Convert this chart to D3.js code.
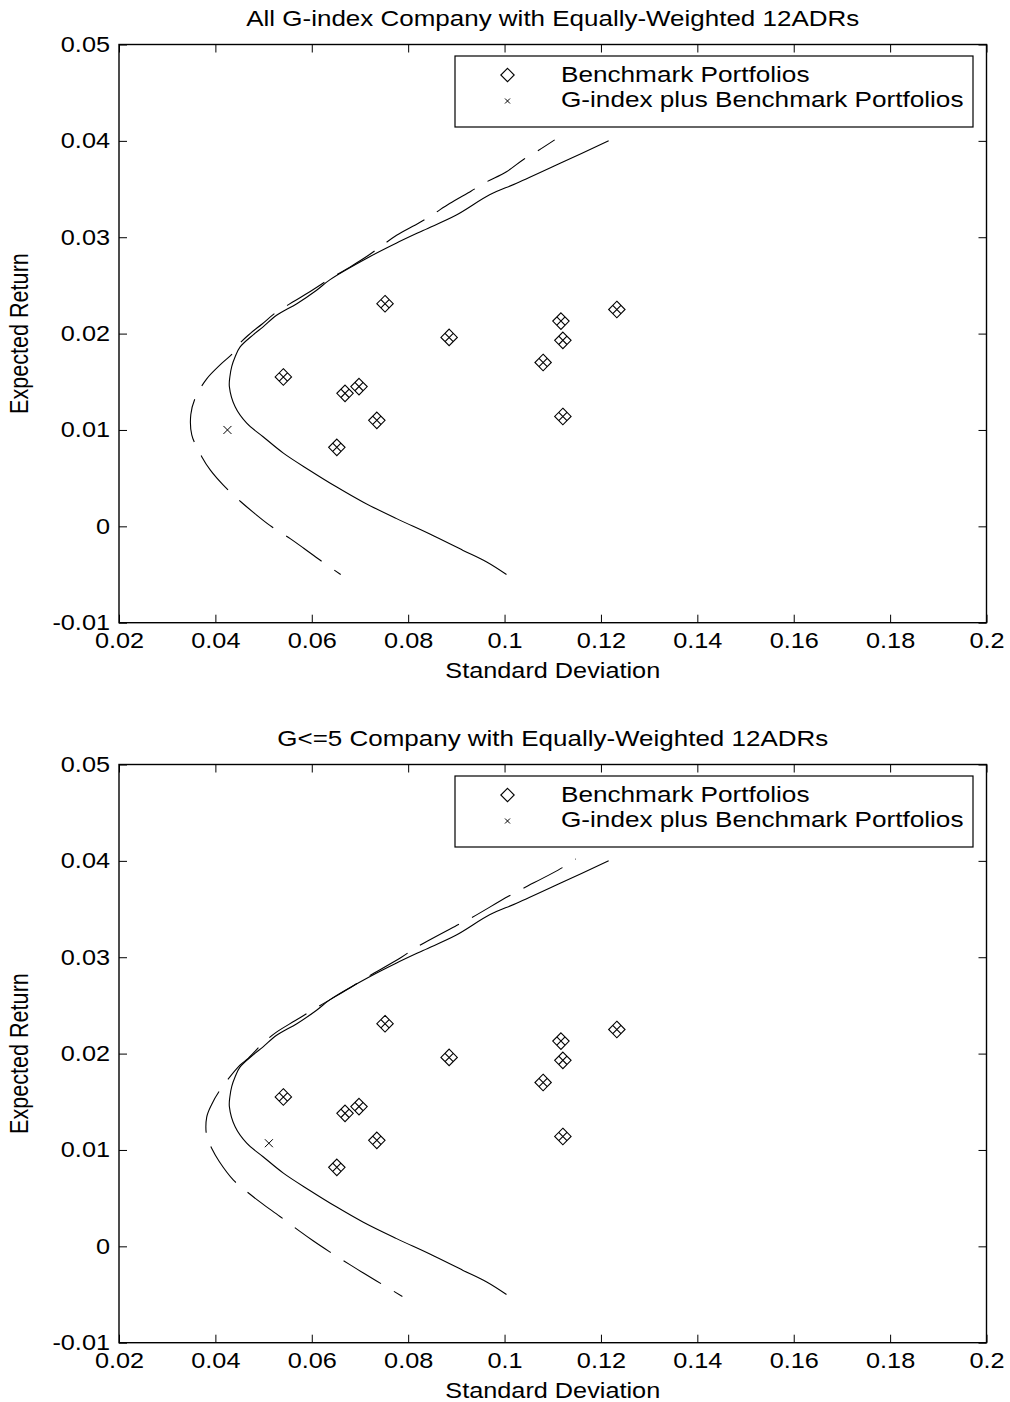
<!DOCTYPE html>
<html>
<head>
<meta charset="utf-8">
<script src="https://cdn.jsdelivr.net/npm/d3@7"></script>
<style>
  html, body { margin: 0; padding: 0; background: #fff; }
  svg { display: block; }
</style>
</head>
<body>
<svg id="chart" width="1010" height="1402"></svg>
<script>
// ---------------- data ----------------
const titles = [
  "All G-index Company with Equally-Weighted 12ADRs",
  "G<=5 Company with Equally-Weighted 12ADRs"
];
const xLabel = "Standard Deviation";
const yLabel = "Expected Return";
const legendLabels = ["Benchmark Portfolios", "G-index plus Benchmark Portfolios"];

const xTicks = [0.02, 0.04, 0.06, 0.08, 0.1, 0.12, 0.14, 0.16, 0.18, 0.2];
const xTickLabels = ["0.02", "0.04", "0.06", "0.08", "0.1", "0.12", "0.14", "0.16", "0.18", "0.2"];
const yTicks = [-0.01, 0, 0.01, 0.02, 0.03, 0.04, 0.05];
const yTickLabels = ["-0.01", "0", "0.01", "0.02", "0.03", "0.04", "0.05"];

// 12 benchmark portfolios (same in both panels)
const benchSD  = [0.0752, 0.0885, 0.1117, 0.1121, 0.1233, 0.1080, 0.1121, 0.0541, 0.0669, 0.0698, 0.0735, 0.0652];
const benchRet = [0.0231, 0.0196, 0.0213, 0.0193, 0.0225, 0.0170, 0.0114, 0.0155, 0.0138, 0.0145, 0.0110, 0.0082];

// benchmark frontier (solid), same in both panels
const frontSD  = [0.1216, 0.1121, 0.1025, 0.0969, 0.0900, 0.0831, 0.0776, 0.0721, 0.0638, 0.0610,
                  0.0569, 0.0527, 0.0499, 0.0479, 0.0451, 0.0441, 0.0434, 0.0430, 0.0429, 0.0441,
                  0.0465, 0.0499, 0.0541, 0.0596, 0.0651, 0.0707, 0.0776, 0.0845, 0.0914, 0.0963, 0.1004];
const frontRet = [0.0400, 0.0378, 0.0356, 0.0344, 0.0323, 0.0307, 0.0294, 0.0280, 0.0256, 0.0245,
                  0.0231, 0.0219, 0.0207, 0.0199, 0.0186, 0.0176, 0.0166, 0.0155, 0.0145, 0.0124,
                  0.0107, 0.0093, 0.0076, 0.0058, 0.0041, 0.0025, 0.0008, -0.0008, -0.0025, -0.0037, -0.0050];

// G-index plus benchmark frontier (dashed), panel 1
const gAllSD  = [0.1104, 0.1070, 0.1040, 0.1004, 0.0961, 0.0931, 0.0886, 0.0852, 0.0823, 0.0776,
                 0.0745, 0.0717, 0.0679, 0.0638, 0.0604, 0.0565, 0.0526, 0.0497, 0.0472, 0.0451,
                 0.0437, 0.0413, 0.0382, 0.0358, 0.0349, 0.0351, 0.0372, 0.0390, 0.0416, 0.0454,
                 0.0480, 0.0513, 0.0556, 0.0584, 0.0617, 0.0660];
const gAllRet = [0.0401, 0.0390, 0.0381, 0.0368, 0.0357, 0.0348, 0.0335, 0.0324, 0.0315, 0.0302,
                 0.0291, 0.0281, 0.0269, 0.0257, 0.0246, 0.0234, 0.0222, 0.0210, 0.0200, 0.0190,
                 0.0180, 0.0169, 0.0153, 0.0133, 0.0116, 0.0095, 0.0072, 0.0058, 0.0043, 0.0025,
                 0.0014, 0.0001, -0.0013, -0.0023, -0.0035, -0.0050];

// G-index plus benchmark frontier (dashed), panel 2 (G<=5)
const g5SD  = [0.1148, 0.1120, 0.1037, 0.1007, 0.0928, 0.0897, 0.0816, 0.0786, 0.0707, 0.0679,
               0.0638, 0.0604, 0.0565, 0.0526, 0.0497, 0.0468, 0.0451, 0.0408, 0.0392, 0.0382,
               0.0382, 0.0392, 0.0408, 0.0437, 0.0472, 0.0498, 0.0534, 0.0574, 0.0602, 0.0638,
               0.0679, 0.0708, 0.0748, 0.0788];
const g5Ret = [0.0402, 0.0393, 0.0371, 0.0363, 0.0340, 0.0332, 0.0310, 0.0300, 0.0277, 0.0268,
               0.0256, 0.0246, 0.0234, 0.0222, 0.0210, 0.0195, 0.0188, 0.0161, 0.0147, 0.0134,
               0.0114, 0.0102, 0.0088, 0.0069, 0.0054, 0.0044, 0.0031, 0.0016, 0.0006, -0.0006,
               -0.0019, -0.0028, -0.0040, -0.0052];

// G-index plus benchmark tangency points
const gPointSD  = [0.0425, 0.0511];
const gPointRet = [0.0100, 0.0107];

// ---------------- drawing ----------------
const FONT = "'Liberation Sans', Arial, Helvetica, sans-serif";
const FS = 21.6;        // axis font size
const FS_TITLE = 22.2;
const FS_LEGEND = 21.8;
const SX = 1.17;        // horizontal stretch of the original figure
const SX_LEGEND = 1.2;

const svg = d3.select("#chart");

const panels = [
  { y0: 0,   title: titles[0], dSD: gAllSD, dRet: gAllRet, dashOffset: 24 },
  { y0: 720, title: titles[1], dSD: g5SD,   dRet: g5Ret,   dashOffset: 43 }
];

function stretchedText(g, x, y, str, anchor, fs, sx) {
  return g.append("text")
    .attr("transform", `translate(${x},${y}) scale(${sx || SX},1)`)
    .attr("text-anchor", anchor)
    .attr("font-family", FONT)
    .attr("font-size", fs)
    .attr("fill", "#000")
    .text(str);
}

function diamondCross(g, cx, cy, hx, hy, withCross) {
  const p = d3.path();
  p.moveTo(cx, cy - hy); p.lineTo(cx + hx, cy); p.lineTo(cx, cy + hy); p.lineTo(cx - hx, cy); p.closePath();
  if (withCross) {
    // lines joining the midpoints of opposite edges
    p.moveTo(cx - hx / 2, cy - hy / 2); p.lineTo(cx + hx / 2, cy + hy / 2);
    p.moveTo(cx + hx / 2, cy - hy / 2); p.lineTo(cx - hx / 2, cy + hy / 2);
  }
  g.append("path").attr("d", p.toString())
    .attr("fill", "none").attr("stroke", "#000").attr("stroke-width", 1.1);
}

function xMark(g, cx, cy, h) {
  const p = d3.path();
  p.moveTo(cx - h, cy - h); p.lineTo(cx + h, cy + h);
  p.moveTo(cx + h, cy - h); p.lineTo(cx - h, cy + h);
  g.append("path").attr("d", p.toString())
    .attr("fill", "none").attr("stroke", "#000").attr("stroke-width", 1);
}

panels.forEach((pn, pi) => {
  const g = svg.append("g");
  const left = 119, right = 986.5, top = pn.y0 + 44.5, bottom = pn.y0 + 622.7;
  const x = d3.scaleLinear().domain([0.02, 0.2]).range([left, right]);
  const y = d3.scaleLinear().domain([-0.01, 0.05]).range([bottom, top]);

  // axes
  const axB = d3.axisBottom(x).tickValues(xTicks).tickFormat((d, i) => xTickLabels[i])
    .tickSizeInner(-8).tickSizeOuter(0).tickPadding(10);
  const axT = d3.axisTop(x).tickValues(xTicks).tickFormat("").tickSizeInner(-8).tickSizeOuter(0);
  const axL = d3.axisLeft(y).tickValues(yTicks).tickFormat((d, i) => yTickLabels[i])
    .tickSizeInner(-8).tickSizeOuter(0).tickPadding(7.7);
  const axR = d3.axisRight(y).tickValues(yTicks).tickFormat("").tickSizeInner(-8).tickSizeOuter(0);

  [[axB, `translate(0,${bottom})`], [axT, `translate(0,${top})`],
   [axL, `translate(${left},0)`], [axR, `translate(${right},0)`]].forEach(([ax, tr]) => {
    const ag = g.append("g").attr("transform", tr).call(ax);
    ag.select(".domain").remove();
    ag.attr("font-family", FONT).attr("font-size", FS);
    ag.selectAll(".tick line").attr("stroke", "#000").attr("stroke-width", 1);
    ag.selectAll(".tick text").attr("fill", "#000").attr("transform", `scale(${SX},1)`);
  });

  // frame
  g.append("rect").attr("x", left).attr("y", top)
    .attr("width", right - left).attr("height", bottom - top)
    .attr("fill", "none").attr("stroke", "#000").attr("stroke-width", 1.4);

  // title and axis labels
  stretchedText(g, (left + right) / 2, pn.y0 + 26, pn.title, "middle", FS_TITLE);
  stretchedText(g, (left + right) / 2, pn.y0 + 677.5, xLabel, "middle", FS);
  g.append("text")
    .attr("transform", `translate(28,${(top + bottom) / 2}) scale(${SX},1) rotate(-90)`)
    .attr("text-anchor", "middle").attr("font-family", FONT).attr("font-size", FS)
    .attr("fill", "#000").text(yLabel);

  // curves
  const line = d3.line().x(d => x(d[0])).y(d => y(d[1])).curve(d3.curveCatmullRom.alpha(0.5));
  g.append("path").datum(frontSD.map((v, i) => [v, frontRet[i]]))
    .attr("d", line).attr("fill", "none").attr("stroke", "#000").attr("stroke-width", 1.1);
  g.append("path").datum(pn.dSD.map((v, i) => [v, pn.dRet[i]]))
    .attr("d", line).attr("fill", "none").attr("stroke", "#000").attr("stroke-width", 1.1)
    .attr("stroke-dasharray", "44,15").attr("stroke-dashoffset", pn.dashOffset);

  // benchmark markers
  benchSD.forEach((v, i) => diamondCross(g, x(v), y(benchRet[i]), 8.2, 8.3, true));
  // G-index point
  xMark(g, x(gPointSD[pi]), y(gPointRet[pi]), 4);

  // legend
  const lg = g.append("g");
  lg.append("rect").attr("x", 455).attr("y", pn.y0 + 56).attr("width", 518).attr("height", 71)
    .attr("fill", "#fff").attr("stroke", "#000").attr("stroke-width", 1.2);
  diamondCross(lg, 507.5, pn.y0 + 75, 6.7, 6.7, false);
  xMark(lg, 507.5, pn.y0 + 101, 2.5);
  stretchedText(lg, 561, pn.y0 + 82, legendLabels[0], "start", FS_LEGEND, SX_LEGEND);
  stretchedText(lg, 561, pn.y0 + 106.6, legendLabels[1], "start", FS_LEGEND, SX_LEGEND);
});
</script>
</body>
</html>
